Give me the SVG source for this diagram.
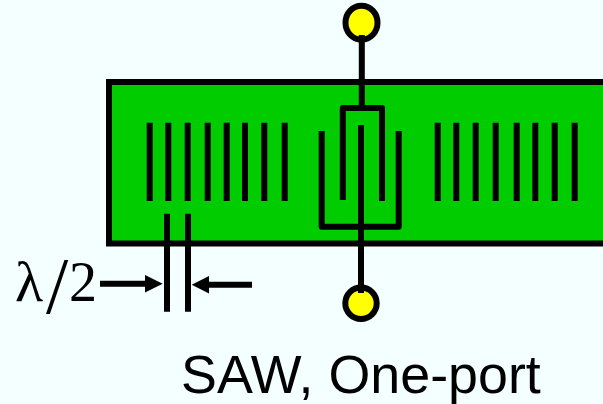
<svg xmlns="http://www.w3.org/2000/svg" width="603" height="404" viewBox="0 0 603 404">
<style>
.l{stroke:#000;stroke-width:6;fill:none}
.p{fill:#ff0;stroke:#000;stroke-width:6}
.a{fill:#000}
text{fill:#000}
</style>
<rect width="603" height="404" fill="#f4ffff"/>
<g id="substrate"><path d="M620 82H109V243.5H620" fill="#00cc00" stroke="#000" stroke-width="6"/></g>
<g id="reflector-left" class="l"><path d="M149.7 122.7V201M168.3 122.7V201M187.7 122.7V201M207.7 122.7V201M226.7 122.7V201M245 122.7V201M264.3 122.7V201M284.7 122.7V201"/></g>
<g id="reflector-right" class="l"><path d="M437.7 122.7V201M456.3 122.7V201M475.7 122.7V201M495.7 122.7V201M516.7 122.7V201M535.3 122.7V201M554.7 122.7V201M574.7 122.7V201"/></g>
<g id="idt-top" class="l"><path d="M342.8 200V108H382V201" stroke-linejoin="round"/></g>
<g id="idt-bottom" class="l"><path d="M321.7 131V226.7H398.7V131" stroke-linejoin="round"/></g>
<g id="port-top"><ellipse class="p" cx="361.5" cy="22.7" rx="16" ry="17"/></g>
<g id="port-bottom"><circle class="p" cx="361" cy="303.3" r="15.7"/></g>
<g id="connectors">
<path class="l" d="M361.8 35V108M361 125V293"/>
<path class="l" d="M167 213.7V311.7M188 213.7V311.7"/>
<path class="l" d="M100 283.7H147M252 284.7H207"/>
<path class="a" d="M162.7 283.7L145 275V292.5ZM191.7 284.7L209 276V293.5Z"/>
</g>
<text y="301" font-family="'Liberation Serif',serif" font-size="58"><tspan x="15">λ</tspan><tspan x="46" y="313" font-size="80">/</tspan><tspan x="69" y="301" font-size="56">2</tspan></text>
<text x="181" y="392.7" font-family="'Liberation Sans',sans-serif" font-size="53.8">SAW, One-port</text>
</svg>
